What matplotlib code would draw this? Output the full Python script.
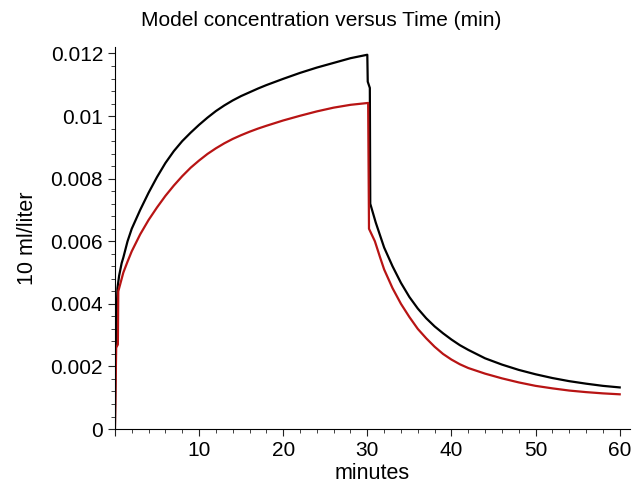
import matplotlib
matplotlib.use("Agg")
import matplotlib.pyplot as plt
from matplotlib.ticker import MultipleLocator, FuncFormatter

plt.rcParams['font.family'] = ['Liberation Sans', 'DejaVu Sans']

# values (minutes, 10 ml/liter)
t_black = [0, 0.1, 0.3, 0.5, 0.8, 1.0, 1.5, 2.0, 3.0, 4.0, 5.0, 6.0, 7.0, 8.0, 9.0,
           10.0, 11.0, 12.0, 13.0, 14.0, 15.0, 16.0, 17.0, 18.0, 20.0, 22.0, 24.0,
           26.0, 28.0, 30.0, 30.05, 30.3, 30.35, 31.0, 31.5, 32.0, 33.0, 34.0, 35.0,
           36.0, 37.0, 38.0, 39.0, 40.0, 41.0, 42.0, 44.0, 46.0, 48.0, 50.0, 52.0,
           54.0, 56.0, 58.0, 60.0]
c_black = [0, 0.0027, 0.0045, 0.0049, 0.0053, 0.00548, 0.0060, 0.0064, 0.0070, 0.00755,
           0.00805, 0.0085, 0.00888, 0.0092, 0.00947, 0.00972, 0.00995, 0.01016,
           0.01034, 0.0105, 0.01064, 0.01076, 0.01088, 0.01099, 0.01119, 0.01138,
           0.01155, 0.0117, 0.01185, 0.01196, 0.0111, 0.0109, 0.0072, 0.0066, 0.0062,
           0.0058, 0.0052, 0.00467, 0.00422, 0.00385, 0.00354, 0.00328, 0.00306,
           0.00286, 0.00268, 0.00253, 0.00226, 0.00206, 0.00189, 0.00175, 0.00163,
           0.00153, 0.00145, 0.00138, 0.00133]

t_red = [0, 0.15, 0.35, 0.4, 0.8, 1.0, 1.5, 2.0, 3.0, 4.0, 5.0, 6.0, 7.0, 8.0, 9.0,
         10.0, 11.0, 12.0, 13.0, 14.0, 15.0, 16.0, 17.0, 18.0, 20.0, 22.0, 24.0,
         26.0, 28.0, 30.1, 30.2, 30.9, 31.5, 32.0, 33.0, 34.0, 35.0, 36.0, 37.0,
         38.0, 39.0, 40.0, 41.0, 42.0, 44.0, 46.0, 48.0, 50.0, 52.0, 54.0, 56.0,
         58.0, 60.0]
c_red = [0, 0.0026, 0.0027, 0.0044, 0.0048, 0.0050, 0.00535, 0.00568, 0.00622, 0.00668,
         0.00708, 0.00745, 0.00778, 0.00808, 0.00835, 0.00858, 0.00879, 0.00897,
         0.00913, 0.00927, 0.00939, 0.0095, 0.0096, 0.00969, 0.00986, 0.01001,
         0.01015, 0.01027, 0.01036, 0.01042, 0.0064, 0.0060, 0.0055, 0.0051, 0.0045,
         0.0040, 0.00358, 0.0032, 0.0029, 0.00263, 0.0024, 0.00222, 0.00207, 0.00195,
         0.00177, 0.00162, 0.00149, 0.00138, 0.0013, 0.00123, 0.00118, 0.00114,
         0.00111]

fig = plt.figure(figsize=(6.42, 4.87), dpi=100)
ax = fig.add_axes([0.179, 0.119, 0.802, 0.784])

ax.plot(t_black, c_black, color='black', lw=1.6)
ax.plot(t_red, c_red, color='#b81414', lw=1.6)

ax.set_xlim(0, 61.2)
ax.set_ylim(0, 0.0122)
ax.spines['top'].set_visible(False)
ax.spines['right'].set_visible(False)

ax.xaxis.set_major_locator(MultipleLocator(10))
ax.xaxis.set_minor_locator(MultipleLocator(2))
ax.yaxis.set_major_locator(MultipleLocator(0.002))
ax.yaxis.set_minor_locator(MultipleLocator(0.0004))
ax.xaxis.set_major_formatter(FuncFormatter(lambda v, p: '' if v == 0 else '%g' % v))
ax.yaxis.set_major_formatter(FuncFormatter(lambda v, p: '%g' % round(v, 4)))
ax.tick_params(which='major', length=5, labelsize=15, color='#222222')
ax.tick_params(which='minor', length=3, color='#222222')

fig.suptitle("Model concentration versus Time (min)", fontsize=15, y=0.977)
ax.set_xlabel("minutes", fontsize=15.5, labelpad=2)
ax.set_ylabel("10 ml/liter", fontsize=15.5, labelpad=9)

plt.savefig("out.png", dpi=100)
